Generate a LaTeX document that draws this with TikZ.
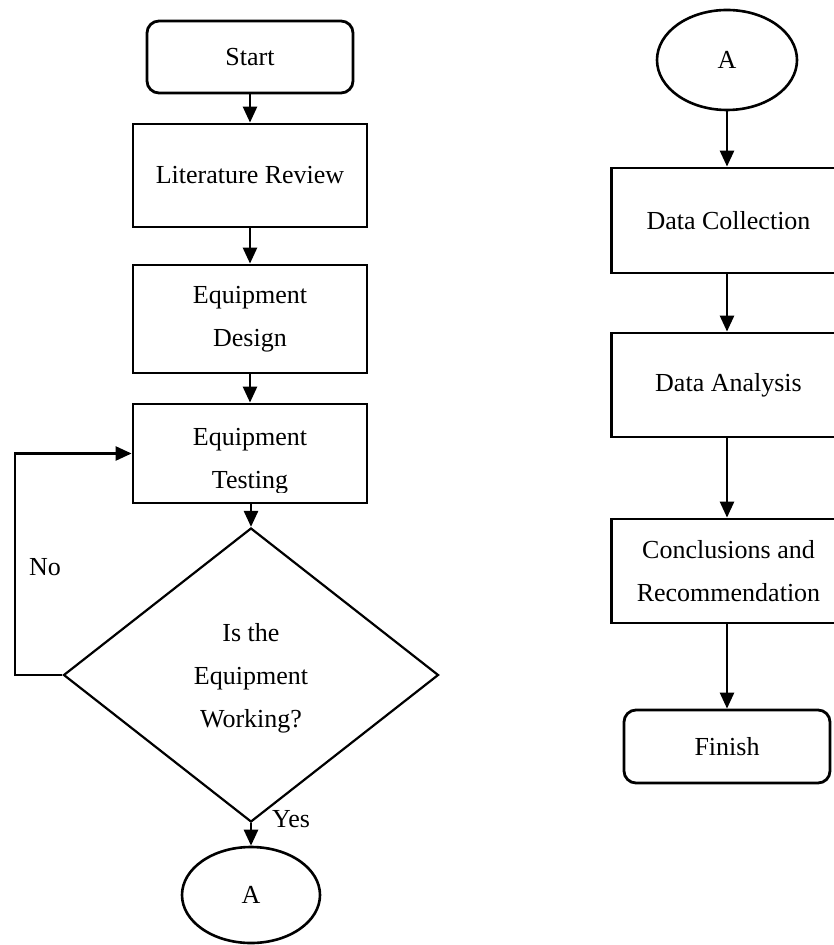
\documentclass[tikz,border=0pt]{standalone}
\usepackage{fontspec}
\setmainfont{Liberation Serif}
\usetikzlibrary{shapes.geometric,arrows.meta}
\begin{document}
\begin{tikzpicture}[x=0.5pt,y=-0.5pt,
  every node/.style={font=\fontsize{13}{21.5}\selectfont, align=center, inner sep=0pt},
  procbox/.style={draw, line width=1.4pt, rectangle, minimum width=117pt},
  termbox/.style={draw, line width=1.4pt, rectangle, rounded corners=6pt, minimum width=103pt},
  connbox/.style={draw, line width=1.3pt, ellipse},
  decbox/.style={draw, line width=1.1pt, diamond, shape aspect=1.276, minimum width=187.5pt, minimum height=147pt},
  flow/.style={line width=1.3pt, -{Triangle[length=8pt,width=7pt]}}
]
\useasboundingbox (0,0) rectangle (833,945);
% left column
\node[termbox, minimum height=36pt] (start) at (250,57) {Start};
\node[procbox, minimum height=51.5pt] (lit) at (250,175.5) {Literature Review};
\node[procbox, minimum height=54pt] (design) at (250,319) {Equipment\\Design};
\node[procbox, minimum height=49.5pt] (test) at (250,453.5) {};
\begin{scope}
  \clip (133,404) rectangle (367,492);
  \node (testlbl) at (250,461) {Equipment\\Testing};
\end{scope}
\node[decbox] (dec) at (251,675) {};
\node (declbl) at (251,678.5) {Is the\\Equipment\\Working?};
\node[connbox, minimum width=69pt, minimum height=48pt] (aleft) at (251,895) {A};
\node (nolbl) at (45,567) {No};
\node (yeslbl) at (291,819) {Yes};
\coordinate (fbl) at (15,675);
\coordinate (fbt) at (15,453.5);

\draw[flow] (start) -- (lit);
\draw[flow] (lit) -- (design);
\draw[flow] (design) -- (test);
\draw[flow] (test.south -| dec.north) -- (dec.north);
\draw[flow] (dec.south) -- (aleft);
\draw[flow] (dec.west) -- (fbl) -- (fbt) -- (test.west);

% right column
\node[connbox, minimum width=70pt, minimum height=50pt] (aright) at (727,60) {A};
\node[procbox, minimum height=52.5pt] (dcol) at (728.5,220.5) {Data Collection};
\node[procbox, minimum height=52pt] (dan) at (728.5,385) {Data Analysis};
\node[procbox, minimum height=52pt] (concl) at (728.5,571) {Conclusions and\\Recommendation};
\node[termbox, minimum height=36.5pt] (finish) at (727,746.5) {Finish};

\draw[flow] (aright.south) -- (aright.south |- dcol.north);
\draw[flow] (dcol.south -| aright.south) -- (aright.south |- dan.north);
\draw[flow] (dan.south -| aright.south) -- (aright.south |- concl.north);
\draw[flow] (concl.south -| aright.south) -- (finish.north);
\end{tikzpicture}
\end{document}
